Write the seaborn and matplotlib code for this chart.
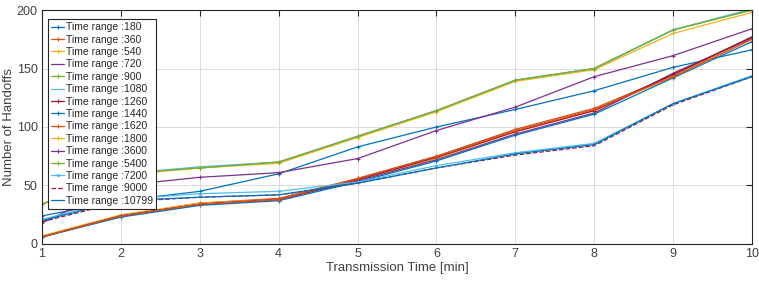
import numpy as np
import pandas as pd
import seaborn as sns
from matplotlib import pyplot as plt

# transmission time (x) and handoff counts per time range
minutes = [1, 2, 3, 4, 5, 6, 7, 8, 9, 10]
time_ranges = ['180', '360', '540', '720', '900', '1080', '1260', '1440',
               '1620', '1800', '3600', '5400', '7200', '9000', '10799']

h180 = [24, 37, 45, 60, 83, 100, 115, 131, 151, 166]
h360 = [6, 24, 35, 39, 56, 75, 98, 116, 144, 177]
h540 = [7, 25, 35, 38, 55, 73, 96, 114, 143, 175]
h720 = [6, 24, 34, 38, 54, 72, 94, 112, 146, 176]
h900 = [34, 60, 65, 70, 92, 114, 140, 150, 183, 200]
h1080 = [34, 60, 66, 70, 92, 114, 140, 150, 183, 201]
h1260 = [6, 24, 34, 38, 55, 74, 96, 114, 145, 177]
h1440 = [6, 23, 33, 37, 53, 71, 93, 111, 142, 173]
h1620 = [6, 24, 34, 38, 56, 75, 97, 115, 143, 175]
h1800 = [34, 59, 65, 69, 91, 113, 139, 149, 180, 198]
h3600 = [18, 50, 57, 61, 73, 97, 117, 143, 161, 184]
h5400 = [34, 60, 65, 70, 92, 114, 140, 150, 183, 200]
h7200 = [21, 38, 43, 45, 53, 67, 78, 86, 120, 144]
h9000 = [19, 36, 40, 42, 52, 65, 76, 84, 119, 143]
h10799 = [20, 37, 40, 42, 52, 65, 77, 85, 120, 143]

series = [h180, h360, h540, h720, h900, h1080, h1260, h1440,
          h1620, h1800, h3600, h5400, h7200, h9000, h10799]

# matlab default colour order
mcol = ['#0072BD', '#D95319', '#EDB120', '#7E2F8E', '#77AC30', '#4DBEEE', '#A2142F']
markers = ['+', '+', '+', '', '+', '', '+', '+', '+', '+', '+', '+', '.', '', '']
styles = ['-'] * 13 + ['--', '-']

sns.set_style('white')
plt.rcParams['font.family'] = ['Liberation Sans', 'DejaVu Sans']

fig = plt.figure(figsize=(7.59, 2.81), dpi=100)
ax = fig.add_axes([0.0553, 0.1317, 0.9355, 0.8327])

for i, (tr, vals) in enumerate(zip(time_ranges, series)):
    c = mcol[i % 7]
    df = pd.DataFrame({'t': minutes, 'n': vals})
    sns.lineplot(data=df, x='t', y='n', ax=ax, color=c,
                 linestyle=styles[i], marker=markers[i] if markers[i] else None,
                 markersize=3, markeredgewidth=0.8, markeredgecolor=c,
                 markerfacecolor=c, linewidth=0.9,
                 label='Time range :' + tr)

ax.set_xlim(1, 10)
ax.set_ylim(0, 200)
ax.set_xticks(minutes)
ax.set_yticks([0, 50, 100, 150, 200])
ax.grid(True, color='#dcdcdc', linewidth=0.7)
ax.set_axisbelow(True)
for s in ax.spines.values():
    s.set_color('#262626')
    s.set_linewidth(0.8)
ax.tick_params(direction='in', length=4, width=0.8, colors='#262626',
               labelcolor='#404040', labelsize=9, top=True, right=True, pad=3)
ax.set_xlabel('Transmission Time [min]', fontsize=9.5, color='#404040', labelpad=1)
ax.set_ylabel('Number of Handoffs', fontsize=9.5, color='#404040', labelpad=1)

leg = ax.legend(loc='upper left', bbox_to_anchor=(0.006, 0.97), fontsize=7.5,
                frameon=True, fancybox=False, framealpha=1, edgecolor='#262626',
                labelspacing=0.23, handlelength=1.2, handletextpad=0.15,
                borderpad=0.3, borderaxespad=0.2)
leg.get_frame().set_linewidth(0.8)

fig.savefig('out.png', dpi=100)
